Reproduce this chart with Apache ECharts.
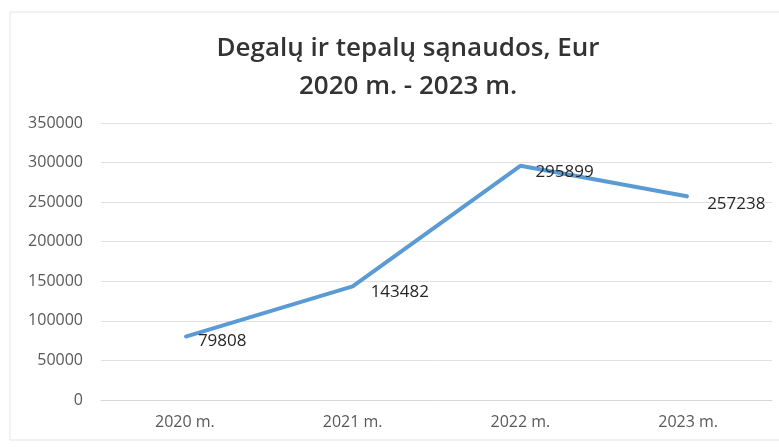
<!DOCTYPE html>
<html>
<head>
<meta charset="utf-8">
<script src="https://cdn.jsdelivr.net/npm/echarts@6/dist/echarts.min.js"></script>
<style>
html, body { margin: 0; padding: 0; background: #fff; }
#chart { width: 779px; height: 448px; }
</style>
</head>
<body>
<div id="chart"></div>
<script>
var years = ['2020 m.', '2021 m.', '2022 m.', '2023 m.'];
var costs = [79808, 143482, 295899, 257238];
var yTicks = [0, 50000, 100000, 150000, 200000, 250000, 300000, 350000];

// label nudges, like in the original picture
var labelOffsets = [[0, 4], [5, 6], [2, 6], [6, 8]];

var myChart = echarts.init(document.getElementById('chart'));
var option = {
	backgroundColor: '#fff',
	title: {
		text: 'Degalų ir tepalų sąnaudos, Eur\n2020 m. - 2023 m.',
		left: 403,
		top: 25,
		textAlign: 'center',
		textStyle: {
			fontFamily: 'Open Sans',
			fontSize: 26,
			fontWeight: 600,
			color: '#333',
			lineHeight: 38
		}
	},
	graphic: [{
		type: 'rect',
		shape: { x: 10, y: 12, width: 775, height: 428 },
		style: { fill: 'none', stroke: '#e4e4e4', lineWidth: 1 },
		silent: true
	}],
	grid: {
		left: 101,
		right: 7,
		top: 123,
		bottom: 48
	},
	xAxis: {
		type: 'category',
		data: years,
		boundaryGap: true,
		axisLine: { lineStyle: { color: '#d9d9d9' } },
		axisTick: { show: false },
		axisLabel: {
			color: '#595959',
			fontFamily: 'Open Sans',
			fontSize: 16,
			margin: 14
		}
	},
	yAxis: {
		type: 'value',
		min: yTicks[0],
		max: yTicks[yTicks.length - 1],
		interval: 50000,
		axisLine: { show: false },
		axisTick: { show: false },
		splitLine: { lineStyle: { color: '#e0e0e0' } },
		axisLabel: {
			color: '#595959',
			fontFamily: 'Open Sans',
			fontSize: 16,
			margin: 18,
			formatter: function (v) { return String(v); }
		}
	},
	series: [{
		type: 'line',
		data: costs.map(function (v, i) {
			return { value: v, label: { offset: labelOffsets[i] } };
		}),
		symbol: 'circle',
		symbolSize: 2,
		showSymbol: true,
		itemStyle: { color: '#5b9bd5' },
		lineStyle: { color: '#5b9bd5', width: 4 },
		label: {
			show: true,
			position: 'right',
			distance: 12,
			color: '#262626',
			fontFamily: 'Open Sans',
			fontSize: 17
		}
	}]
};
myChart.setOption(option);
</script>
</body>
</html>
